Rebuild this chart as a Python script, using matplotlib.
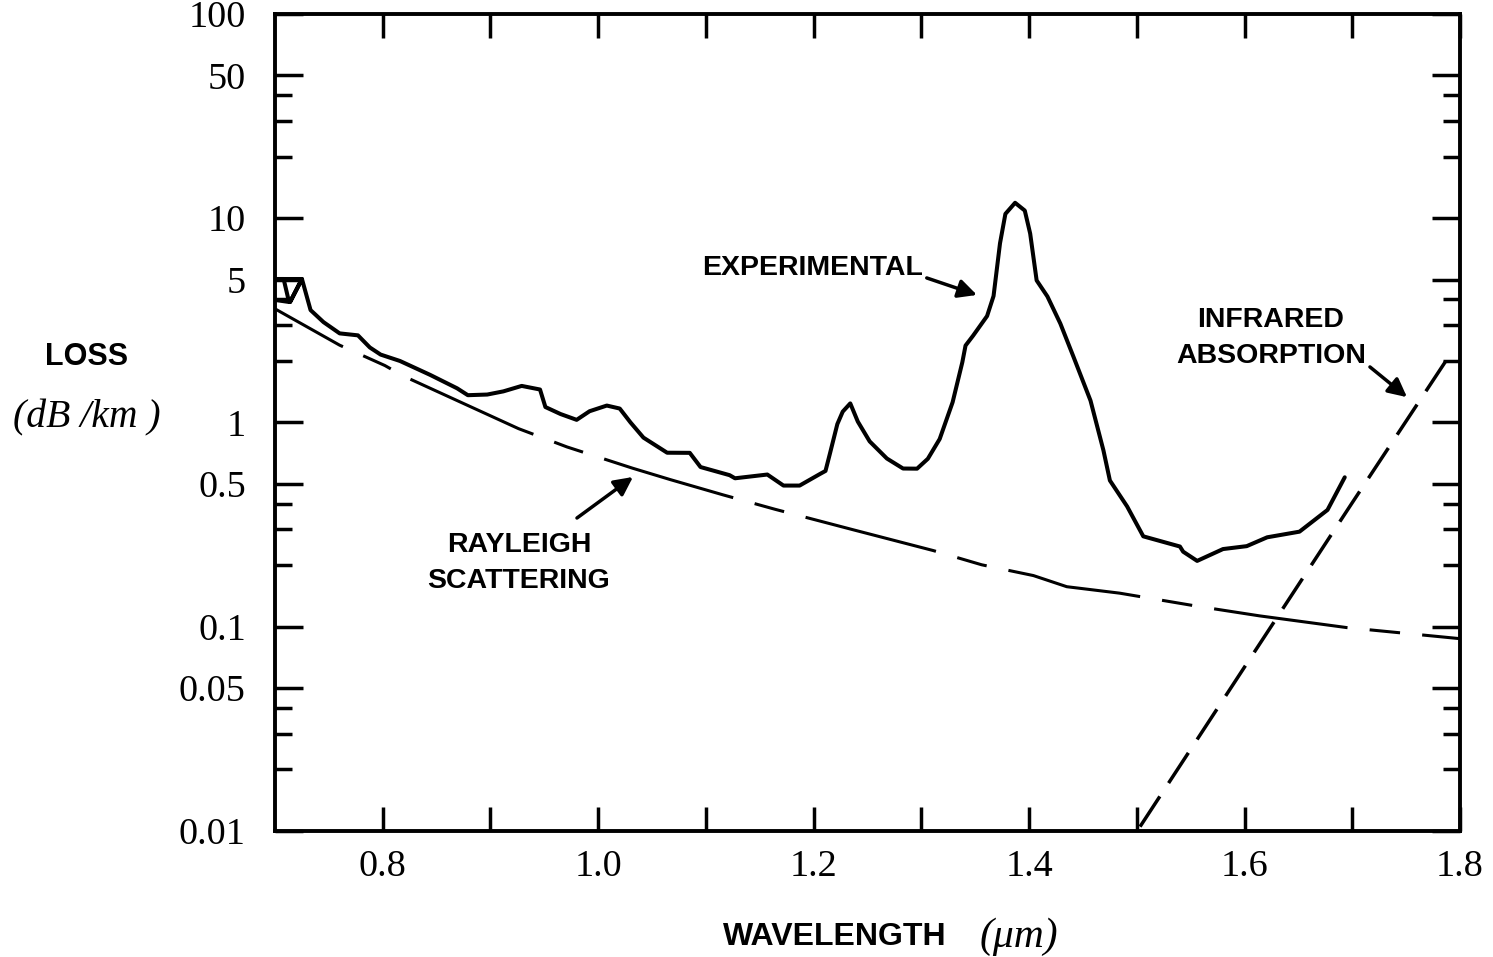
# Fibre loss spectrum: experimental loss, Rayleigh scattering and infrared absorption
import matplotlib.pyplot as plt
from matplotlib.ticker import FixedLocator, FixedFormatter, NullFormatter

# experimental curve (the first few points are the little notch at the left edge)
exp_wavelength = [0.700, 0.713, 0.708, 0.700, 0.725, 0.714, 0.725, 0.733, 0.745, 0.760,
                  0.777, 0.788, 0.798, 0.816, 0.844, 0.869, 0.879, 0.897, 0.912, 0.929,
                  0.946, 0.951, 0.965, 0.980, 0.992, 1.008, 1.020, 1.030, 1.042, 1.064,
                  1.085, 1.095, 1.122, 1.127, 1.157, 1.172, 1.187, 1.206, 1.211, 1.215,
                  1.222, 1.227, 1.234, 1.241, 1.252, 1.268, 1.283, 1.296, 1.306, 1.317,
                  1.329, 1.338, 1.341, 1.348, 1.361, 1.367, 1.373, 1.378, 1.387, 1.396,
                  1.401, 1.407, 1.417, 1.429, 1.441, 1.457, 1.469, 1.475, 1.491, 1.506,
                  1.540, 1.543, 1.556, 1.580, 1.602, 1.621, 1.651, 1.677, 1.693]
exp_loss = [3.98, 3.89, 5.04, 5.04, 5.04, 3.89, 5.04, 3.55, 3.10, 2.73,
            2.67, 2.33, 2.15, 2.00, 1.71, 1.47, 1.36, 1.37, 1.42, 1.51,
            1.45, 1.19, 1.10, 1.03, 1.135, 1.21, 1.17, 1.00, 0.843, 0.711,
            0.710, 0.605, 0.552, 0.533, 0.556, 0.491, 0.491, 0.560, 0.579, 0.700,
            0.982, 1.13, 1.24, 1.01, 0.808, 0.666, 0.595, 0.594, 0.664, 0.830,
            1.256, 1.97, 2.38, 2.66, 3.32, 4.16, 7.54, 10.5, 11.9, 10.9,
            8.41, 4.96, 4.14, 3.05, 2.11, 1.28, 0.73, 0.52, 0.388, 0.277,
            0.247, 0.233, 0.210, 0.240, 0.248, 0.274, 0.292, 0.373, 0.539]

rayleigh_wavelength = [0.700, 0.760, 0.802, 0.819, 0.926, 0.971, 1.032, 1.067, 1.116, 1.164,
                       1.237, 1.311, 1.356, 1.404, 1.435, 1.484, 1.556, 1.614, 1.695, 1.800]
rayleigh_loss = [3.60, 2.39, 1.90, 1.69, 0.933, 0.759, 0.597, 0.525, 0.442, 0.376,
                 0.298, 0.236, 0.201, 0.178, 0.157, 0.146, 0.126, 0.113, 0.099, 0.0874]

ir_wavelength = [1.503, 1.600, 1.700, 1.789]
ir_loss = [0.0105, 0.0635, 0.405, 2.08]

ytick_values = [0.01, 0.05, 0.1, 0.5, 1, 5, 10, 50, 100]
ytick_labels = ['0.01', '0.05', '0.1', '0.5', '1', '5', '10', '50', '100']
yminor_values = [0.02, 0.03, 0.04, 0.2, 0.3, 0.4, 2, 3, 4, 20, 30, 40]
xtick_values = [0.8, 1.0, 1.2, 1.4, 1.6, 1.8]
xtick_labels = ['0.8', '1.0', '1.2', '1.4', '1.6', '1.8']
xminor_values = [0.9, 1.1, 1.3, 1.5, 1.7]

plt.rcParams['lines.scale_dashes'] = False
SERIF = 'Liberation Serif'
SANS = 'Liberation Sans'

fig = plt.figure(figsize=(14.93, 9.57), dpi=100)
ax = fig.add_axes([0.1842, 0.1317, 0.7937, 0.8537])

ax.plot(exp_wavelength, exp_loss, color='black', lw=2.9,
        solid_joinstyle='round', solid_capstyle='round')
ax.plot(rayleigh_wavelength, rayleigh_loss, color='black', lw=2.2,
        linestyle=(41, (97, 16, 22, 16)))
ax.plot(ir_wavelength, ir_loss, color='black', lw=2.5, linestyle=(0, (26, 11.5)))

ax.set_yscale('log')
ax.set_xlim(0.7, 1.8)
ax.set_ylim(0.01, 100)

ax.yaxis.set_major_locator(FixedLocator(ytick_values))
ax.yaxis.set_major_formatter(FixedFormatter(ytick_labels))
ax.yaxis.set_minor_locator(FixedLocator(yminor_values))
ax.yaxis.set_minor_formatter(NullFormatter())
ax.xaxis.set_major_locator(FixedLocator(xtick_values))
ax.xaxis.set_major_formatter(FixedFormatter(xtick_labels))
ax.xaxis.set_minor_locator(FixedLocator(xminor_values))
ax.xaxis.set_minor_formatter(NullFormatter())

ax.tick_params(which='both', direction='in', top=True, right=True, width=2.5, color='black')
ax.tick_params(axis='y', which='major', length=20, pad=21)
ax.tick_params(axis='y', which='minor', length=12)
ax.tick_params(axis='x', which='both', length=17, pad=13)
for label in ax.get_xticklabels() + ax.get_yticklabels():
    label.set_family(SERIF)
    label.set_fontsize(27.5)

for spine in ax.spines.values():
    spine.set_linewidth(2.8)

# axis titles
fig.text(0.0583, 0.627, 'LOSS', family=SANS, weight='bold', fontsize=22,
         ha='center', va='center')
fig.text(0.0583, 0.5632, '(dB /km )', family=SERIF, style='italic', fontsize=28.5,
         ha='center', va='center')
fig.text(0.5593, 0.0209, 'WAVELENGTH', family=SANS, weight='bold', fontsize=23,
         ha='center', va='center')
fig.text(0.6825, 0.0209, '(\u03bcm)', family=SERIF, style='italic', fontsize=30,
         ha='center', va='center')

# labels with arrows
arrow = dict(arrowstyle='-|>', color='black', lw=2.5, mutation_scale=28, shrinkA=0, shrinkB=0)
ax.text(1.1994, 5.71, 'EXPERIMENTAL', family=SANS, weight='bold', fontsize=20.5,
        ha='center', va='center')
ax.annotate('', xy=(1.3516, 4.21), xytext=(1.305, 5.10), arrowprops=arrow)

ax.text(0.9265, 0.205, 'RAYLEIGH\nSCATTERING', family=SANS, weight='bold', fontsize=20.5,
        ha='center', va='center', linespacing=1.5)
ax.annotate('', xy=(1.0323, 0.541), xytext=(0.9803, 0.3406), arrowprops=arrow)

ax.text(1.6246, 2.59, 'INFRARED\nABSORPTION', family=SANS, weight='bold', fontsize=20.5,
        ha='center', va='center', linespacing=1.5)
ax.annotate('', xy=(1.7508, 1.33), xytext=(1.7164, 1.87), arrowprops=arrow)

plt.savefig('out.png', dpi=100)
plt.close()
